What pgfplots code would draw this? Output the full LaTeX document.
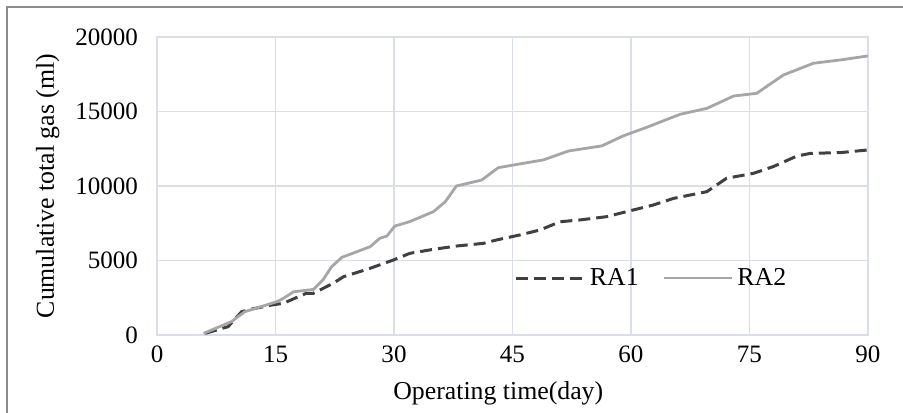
\documentclass[border=0pt]{standalone}
\usepackage{fontspec}
\setmainfont{Liberation Serif}
\usepackage{pgfplots}
\pgfplotsset{compat=1.18}
\definecolor{gridc}{HTML}{D9DEE7}
\definecolor{raone}{HTML}{404040}
\definecolor{ratwo}{HTML}{A6A6A6}
\definecolor{framec}{HTML}{8C8C8C}

\begin{document}
\begin{tikzpicture}
\useasboundingbox (0,0) rectangle (451.5pt,206pt);
% outer chart frame (cut off on the right and bottom)
\draw[framec, line width=1pt] (3.25pt,-2pt) -- (3.25pt,202.5pt) -- (455pt,202.5pt);
\begin{axis}[
    at={(78.5pt,38.5pt)}, anchor=south west,
    width=355.5pt, height=149pt, scale only axis,
    xmin=0, xmax=90, ymin=0, ymax=20000,
    xtick={0,15,...,90}, ytick={0,5000,...,20000},
    grid=major, grid style={gridc, line width=0.8pt},
    axis line style={gridc, line width=0.8pt},
    major tick length=0pt,
    tick label style={font=\fontsize{12.5}{15}\selectfont},
    label style={font=\fontsize{12.9}{15}\selectfont},
    /pgf/number format/assume math mode=true,
    scaled y ticks=false,
    yticklabel style={/pgf/number format/1000 sep={}, xshift=-6pt},
    xticklabel style={yshift=-2pt},
    xlabel={Operating time(day)},
    ylabel={Cumulative total gas (ml)},
    xlabel style={at={(axis description cs:0.48,-0.2148)}, anchor=base},
    ylabel style={at={(axis description cs:-0.145,0.5)}, anchor=base},
    legend columns=2,
    legend style={at={(0.697,0.191)}, anchor=center, draw=none, fill=none,
        font=\fontsize{12.9}{15}\selectfont,
        nodes={inner xsep=2pt},
        /tikz/every odd column/.append style={column sep=0pt},
        /tikz/every even column/.append style={column sep=10pt}},
    legend image code/.code={\draw[#1] (0pt,0pt) -- (34pt,0pt);},
]

% RA1
\addplot[raone, line width=1.5pt, dash pattern=on 6pt off 3pt] coordinates {
    (6.1,110) (9.0,560) (10.7,1560) (11.8,1720) (14.5,2010) (16,2130)
    (18.9,2800) (19.8,2800) (22.3,3470) (23.6,3910) (27.0,4480)
    (29.9,5030) (32.0,5480) (35.0,5750) (37.9,5970) (41.3,6150)
    (43.0,6380) (45.9,6710) (48.5,7050) (51.0,7600) (53.5,7720)
    (56.9,7940) (59.9,8340) (62.8,8720) (65.4,9170) (69.6,9620)
    (72.1,10520) (75.5,10850) (78.0,11300) (81.0,12010) (82.7,12190)
    (86.5,12240) (90.0,12420)
};
\addlegendentry{RA1}

% RA2
\addplot[ratwo, line width=1.4pt] coordinates {
    (5.9,110) (9.4,890) (11.1,1560) (15.2,2240) (16,2460) (17.3,2900)
    (19.8,3060) (21.0,3690) (22.1,4580) (23.4,5210) (27.0,5930)
    (28.2,6490) (29.1,6640) (30.1,7310) (32.0,7610) (35.0,8280)
    (36.5,8950) (37.9,10000) (41.1,10400) (43.2,11230) (45.9,11480)
    (48.9,11750) (52.1,12350) (56.3,12690) (59.0,13360) (62.0,13940)
    (66.2,14810) (69.6,15210) (73.0,16040) (75.9,16220) (79.3,17450)
    (83.1,18240) (86.5,18460) (90.0,18730)
};
\addlegendentry{RA2}

\end{axis}
\end{tikzpicture}
\end{document}
